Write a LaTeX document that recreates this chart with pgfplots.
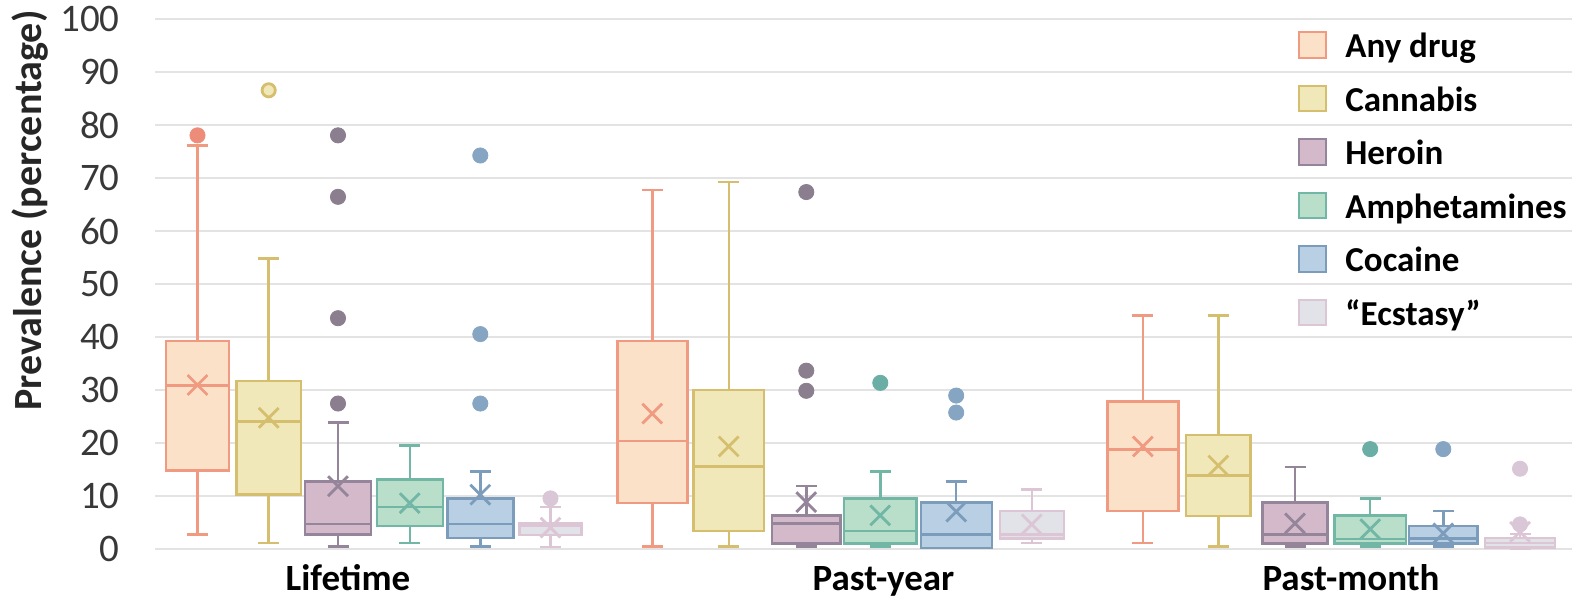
\documentclass[border=0pt]{standalone}
\usepackage{pgfplots}
\pgfplotsset{compat=1.18}
\usepackage{fontspec}
\setmainfont{Carlito}
\definecolor{anyF}{HTML}{FCE1C9}\definecolor{anyD}{HTML}{F09A82}\definecolor{anyO}{HTML}{EE8C7A}
\definecolor{canF}{HTML}{F1E8B9}\definecolor{canD}{HTML}{D5BE6E}
\definecolor{herF}{HTML}{D3B9C9}\definecolor{herD}{HTML}{94859A}\definecolor{herO}{HTML}{8B7E8F}
\definecolor{ampF}{HTML}{B9DFCB}\definecolor{ampD}{HTML}{72B6A6}\definecolor{ampO}{HTML}{6AAEA6}
\definecolor{cocF}{HTML}{B9CFE4}\definecolor{cocD}{HTML}{7C9CBB}\definecolor{cocO}{HTML}{86A5C3}
\definecolor{ecsF}{HTML}{E1E3E9}\definecolor{ecsD}{HTML}{DCC5D5}\definecolor{ecsO}{HTML}{D9C7D8}
\definecolor{tickc}{HTML}{383838}
\definecolor{gridc}{HTML}{E3E3E3}

% box: color, position, width, lower whisker, q1, median, q3, upper whisker, mean
\newcommand{\bx}[9]{%
  \pgfmathsetmacro\xa{#2-#3/2}\pgfmathsetmacro\xb{#2+#3/2}%
  \pgfmathsetmacro\ca{#2-10.5}\pgfmathsetmacro\cb{#2+10.5}%
  \addplot[forget plot, draw=#1D, fill=#1F, line width=1.2pt] coordinates {(\xa,#5) (\xb,#5) (\xb,#7) (\xa,#7)} --cycle;
  \addplot[forget plot, draw=#1D, line width=1.2pt] coordinates {(\xa,#6) (\xb,#6)};
  \addplot[forget plot, draw=#1D, line width=1.2pt] coordinates {(#2,#7) (#2,#8)};
  \addplot[forget plot, draw=#1D, line width=1.2pt] coordinates {(#2,#5) (#2,#4)};
  \addplot[forget plot, draw=#1D, line width=1.2pt] coordinates {(\ca,#8) (\cb,#8)};
  \addplot[forget plot, draw=#1D, line width=1.2pt] coordinates {(\ca,#4) (\cb,#4)};
  \addplot[forget plot, only marks, mark=x, mark size=7pt, draw=#1D,
    mark options={line width=1.4pt}] coordinates {(#2,#9)};
}

\begin{document}
\begin{tikzpicture}
\begin{axis}[
  scale only axis, width=708.5pt, height=265pt,
  xmin=155, xmax=1572, ymin=0, ymax=100,
  clip=false,
  axis line style={draw=none},
  major tick length=0pt,
  ymajorgrids, grid style={color=gridc, line width=0.9pt},
  ytick={0,10,...,100},
  /pgf/number format/assume math mode=true,
  yticklabel style={font=\fontsize{19.5}{22}\selectfont, color=tickc, anchor=east, inner sep=0pt, xshift=-17.5pt},
  xtick={348,883.5,1351},
  xticklabels={Lifetime,Past-year,Past-month},
  xticklabel style={font=\fontsize{18.5}{22}\selectfont\bfseries, anchor=base, inner sep=0pt, yshift=-20.85pt},
  legend style={at={(axis cs:1297.5,97.85)}, anchor=north west, draw=none, fill=none,
    inner sep=0pt, row sep=8.95pt,
    font=\fontsize{17.5}{20}\selectfont\bfseries,
    nodes={inner sep=0pt, text height=13pt, text depth=4.5pt}},
  legend cell align=left,
  legend image code/.code={\draw[#1, line width=1.1pt] (0pt,-4.3pt) rectangle (13.6pt,8.5pt); \path (23pt,0pt);},
]
\addlegendimage{draw=anyD, fill=anyF}\addlegendentry{Any drug}
\addlegendimage{draw=canD, fill=canF}\addlegendentry{Cannabis}
\addlegendimage{draw=herD, fill=herF}\addlegendentry{Heroin}
\addlegendimage{draw=ampD, fill=ampF}\addlegendentry{Amphetamines}
\addlegendimage{draw=cocD, fill=cocF}\addlegendentry{Cocaine}
\addlegendimage{draw=ecsD, fill=ecsF}\addlegendentry{“Ecstasy”}

% Lifetime
\bx{any}{197.5}{63}{2.8}{14.9}{30.9}{39.3}{76.2}{31.0}
\bx{can}{268.7}{64}{1.2}{10.3}{24.1}{31.7}{54.9}{24.8}
\bx{her}{338}{66}{0.5}{2.8}{4.8}{12.8}{23.9}{11.9}
\bx{amp}{409.7}{66}{1.2}{4.4}{8.0}{13.2}{19.6}{8.7}
\bx{coc}{480.3}{66}{0.5}{2.1}{4.8}{9.6}{14.7}{10.3}
\bx{ecs}{550.5}{62}{0.4}{2.7}{4.5}{5.0}{8.0}{4.1}
% Past-year
\bx{any}{652.3}{70}{0.5}{8.7}{20.4}{39.3}{67.8}{25.6}
\bx{can}{728.7}{70.7}{0.5}{3.5}{15.6}{30.0}{69.3}{19.4}
\bx{her}{806.3}{68.7}{0.5}{1.1}{4.9}{6.4}{11.9}{8.9}
\bx{amp}{880.3}{72.7}{0.5}{1.1}{3.5}{9.6}{14.7}{6.4}
\bx{coc}{956.2}{71}{0.25}{0.25}{2.8}{8.8}{12.8}{7.1}
\bx{ecs}{1031.7}{64}{1.2}{2.0}{2.8}{7.2}{11.3}{4.7}
% Past-month
\bx{any}{1142.8}{71}{1.2}{7.2}{18.8}{27.9}{44.1}{19.4}
\bx{can}{1218.3}{64.7}{0.5}{6.3}{13.9}{21.6}{44.1}{15.8}
\bx{her}{1295}{64.7}{0.5}{1.1}{2.8}{8.8}{15.5}{4.9}
\bx{amp}{1370.2}{71.7}{0.5}{1.1}{1.9}{6.4}{9.6}{3.8}
\bx{coc}{1443.3}{68.7}{0.5}{1.1}{2.0}{4.4}{7.2}{3.0}
\bx{ecs}{1520}{70}{0.0}{0.3}{1.2}{2.1}{2.9}{3.3}

% outliers
\addplot[forget plot, only marks, mark=*, mark size=3.8pt, color=anyO] coordinates {(197.5,78.1)};
\addplot[forget plot, only marks, mark=*, mark size=3.3pt, draw=canD, fill=canF, mark options={line width=1.4pt}] coordinates {(268.7,86.6)};
\addplot[forget plot, only marks, mark=*, mark size=3.8pt, color=herO] coordinates {(338,27.5) (338,43.6) (338,66.5) (338,78.1) (806.3,29.9) (806.3,33.7) (806.3,67.4)};
\addplot[forget plot, only marks, mark=*, mark size=3.8pt, color=ampO] coordinates {(880.3,31.4) (1370.2,18.9)};
\addplot[forget plot, only marks, mark=*, mark size=3.8pt, color=cocO] coordinates {(480.3,27.5) (480.3,40.6) (480.3,74.3) (956.2,25.8) (956.2,29.0) (1443.3,18.9)};
\addplot[forget plot, only marks, mark=*, mark size=3.8pt, color=ecsO] coordinates {(550.5,9.6) (1520,4.7) (1520,15.2)};

\node[rotate=90, font=\fontsize{20}{22}\selectfont\bfseries, color=black!85] at (axis cs:30.5,63.9) {Prevalence (percentage)};

\coordinate (BBa) at (axis cs:0,-9.94);
\coordinate (BBb) at (axis cs:1591,103.64);
\end{axis}
\pgfresetboundingbox
\useasboundingbox (BBa) rectangle (BBb);
\end{tikzpicture}
\end{document}
